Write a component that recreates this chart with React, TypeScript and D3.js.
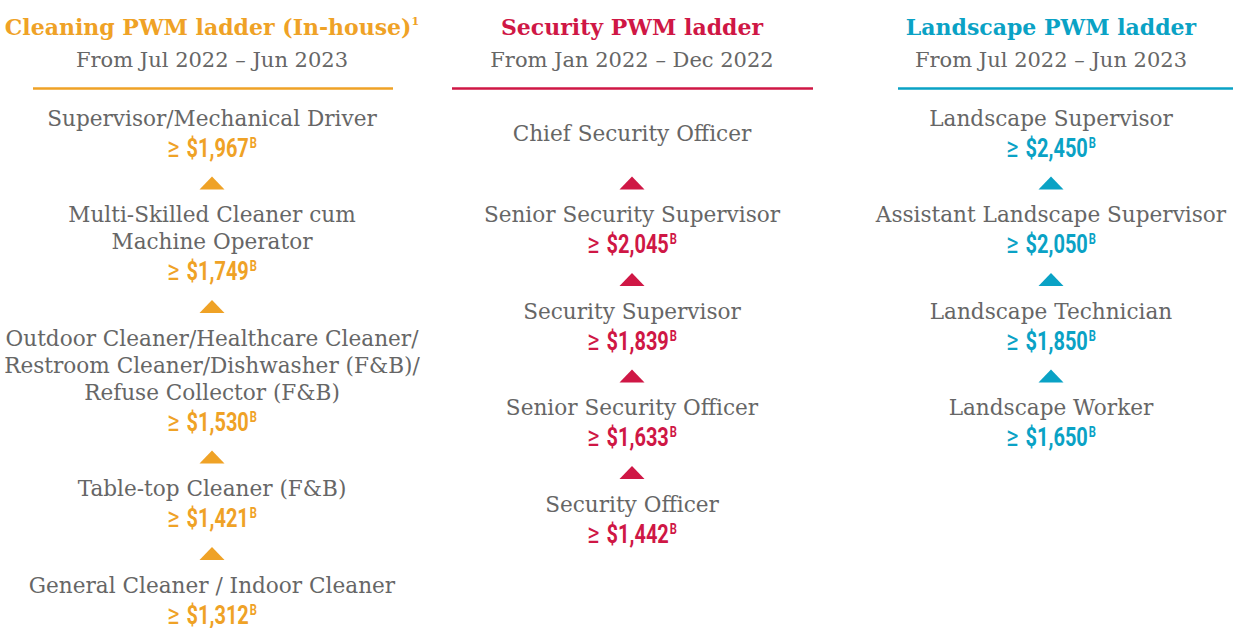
import React from "react";
import * as d3 from "d3";

const columns = ["cleaning", "security", "landscape"];
const titles = ["Cleaning PWM ladder (In-house)", "Security PWM ladder", "Landscape PWM ladder"];
const titleNotes = ["1", "", ""];
const subtitles = ["From Jul 2022 – Jun 2023", "From Jan 2022 – Dec 2022", "From Jul 2022 – Jun 2023"];

// levels listed top to bottom
const cleaningLabels = [
  ["Supervisor/Mechanical Driver"],
  ["Multi-Skilled Cleaner cum", "Machine Operator"],
  ["Outdoor Cleaner/Healthcare Cleaner/", "Restroom Cleaner/Dishwasher (F&B)/", "Refuse Collector (F&B)"],
  ["Table-top Cleaner (F&B)"],
  ["General Cleaner / Indoor Cleaner"],
];
const cleaningValues: (number | null)[] = [1967, 1749, 1530, 1421, 1312];

const securityLabels = [
  ["Chief Security Officer"],
  ["Senior Security Supervisor"],
  ["Security Supervisor"],
  ["Senior Security Officer"],
  ["Security Officer"],
];
const securityValues: (number | null)[] = [null, 2045, 1839, 1633, 1442];

const landscapeLabels = [
  ["Landscape Supervisor"],
  ["Assistant Landscape Supervisor"],
  ["Landscape Technician"],
  ["Landscape Worker"],
];
const landscapeValues: (number | null)[] = [2450, 2050, 1850, 1650];

const valueNote = "B";

const COLORS = ["#EFA226", "#CF1745", "#0AA2C5"];
const GRAY = "#666666";
const SLAB = "'DejaVu Serif', 'Liberation Serif', serif";
const COND = "Roboto, 'DejaVu Sans', sans-serif";

const W = 1242;
const H = 628;

const xCenter = d3.scaleOrdinal<string, number>().domain(columns).range([212, 632, 1051]);
const ruleStart = d3.scaleOrdinal<string, number>().domain(columns).range([33, 452, 898]);
const ruleEnd = d3.scaleOrdinal<string, number>().domain(columns).range([393, 813, 1233]);

// vertical flow in px offsets from the first label line
const y = d3.scaleLinear().domain([0, 500]).range([117.5, 617.5]);
const LINE = 27;
const LABEL_TO_VALUE = 30.5;
const VALUE_TO_TRI = 35;
const TRI_TO_LABEL = 31;

const fmt = d3.format(",");

type Item =
  | { kind: "label"; text: string; y: number }
  | { kind: "value"; v: number; y: number }
  | { kind: "tri"; y: number };

function layout(labels: string[][], values: (number | null)[]): Item[] {
  const items: Item[] = [];
  let off = 0;
  labels.forEach((lines, i) => {
    const v = values[i];
    if (v == null) {
      const mid = off + LABEL_TO_VALUE / 2;
      lines.forEach((t, j) => items.push({ kind: "label", text: t, y: y(mid + j * LINE) }));
      off += LABEL_TO_VALUE;
    } else {
      lines.forEach((t, j) => items.push({ kind: "label", text: t, y: y(off + j * LINE) }));
      off += (lines.length - 1) * LINE + LABEL_TO_VALUE;
      items.push({ kind: "value", v, y: y(off) });
    }
    if (i < labels.length - 1) {
      off += VALUE_TO_TRI;
      items.push({ kind: "tri", y: y(off) });
      off += TRI_TO_LABEL;
    }
  });
  return items;
}

const columnData = [
  layout(cleaningLabels, cleaningValues),
  layout(securityLabels, securityValues),
  layout(landscapeLabels, landscapeValues),
];

const triPath = (cx: number, cy: number) => {
  const line = d3.line();
  return (
    line([
      [cx - 12.5, cy + 6.5],
      [cx, cy - 6.5],
      [cx + 12.5, cy + 6.5],
    ]) + "Z"
  );
};

export default function App() {
  return (
    <svg
      width={W}
      height={H}
      style={{ position: "absolute", left: 0, top: 0, display: "block", background: "#fff" }}
    >
      {columns.map((c, ci) => {
        const cx = xCenter(c);
        const color = COLORS[ci];
        return (
          <g key={c}>
            <text
              x={cx}
              y={35}
              textAnchor="middle"
              fontFamily={SLAB}
              fontWeight="bold"
              fontSize={22}
              fill={color}
            >
              {titles[ci]}
              {titleNotes[ci] ? (
                <tspan fontSize={11} dy={-10}>
                  {titleNotes[ci]}
                </tspan>
              ) : null}
            </text>
            <text x={cx} y={67} textAnchor="middle" fontFamily={SLAB} fontSize={21} fill={GRAY}>
              {subtitles[ci]}
            </text>
            <line
              x1={ruleStart(c)}
              x2={ruleEnd(c)}
              y1={88.5}
              y2={88.5}
              stroke={color}
              strokeWidth={2.6}
            />
            {columnData[ci].map((it, k) => {
              if (it.kind === "label") {
                return (
                  <text
                    key={k}
                    x={cx}
                    y={it.y + 8}
                    textAnchor="middle"
                    fontFamily={SLAB}
                    fontSize={21.6}
                    fill={GRAY}
                  >
                    {it.text}
                  </text>
                );
              }
              if (it.kind === "value") {
                return (
                  <text
                    key={k}
                    transform={`translate(${cx},${it.y + 8.5}) scale(0.8,1)`}
                    textAnchor="middle"
                    fontFamily={COND}
                    fontSize={25}
                    fill={color}
                  >
                    <tspan fontWeight="normal" fontSize={29}>
                      {"≥"}
                    </tspan>
                    <tspan fontWeight="bold" dx={9}>
                      {"$" + fmt(it.v)}
                    </tspan>
                    <tspan fontWeight="bold" fontSize={14} dx={1} dy={-9}>
                      {valueNote}
                    </tspan>
                  </text>
                );
              }
              return <path key={k} d={triPath(cx, it.y)} fill={color} />;
            })}
          </g>
        );
      })}
    </svg>
  );
}
